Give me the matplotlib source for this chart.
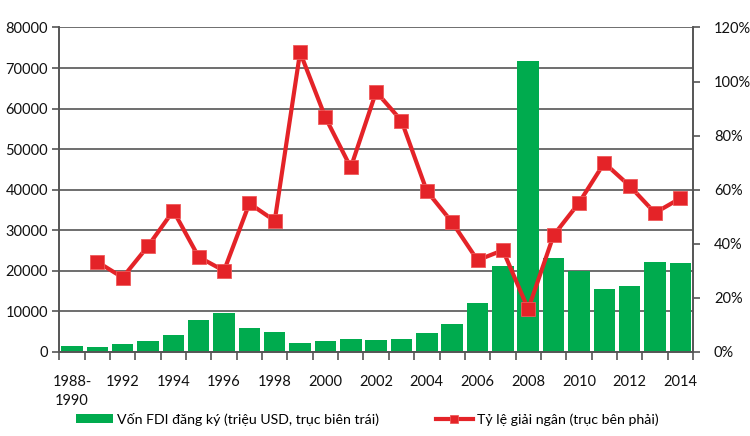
import numpy as np
import matplotlib
matplotlib.use("Agg")
import matplotlib.pyplot as plt
from matplotlib.ticker import FuncFormatter

plt.rcParams['font.family'] = ['Lato', 'DejaVu Sans']

categories = ['1988-\n1990'] + [str(y) for y in range(1991, 2015)]
fdi = [1400, 1100, 1900, 2700, 4200, 7800, 9500, 5900, 4800, 2300, 2650, 3200,
       2900, 3050, 4550, 6750, 11950, 21200, 71700, 23050, 19900, 15450, 16300,
       22200, 21800]
# no disbursement rate for 1988-1990
rate = [np.nan, 33.3, 27.5, 39.1, 52.2, 35.1, 30.0, 54.9, 48.5, 110.8, 86.7, 68.2,
        96.2, 85.5, 59.5, 47.9, 33.9, 37.6, 15.8, 43.1, 55.1, 69.9, 61.4, 51.4, 56.8]

green = '#00AB4E'
red = '#E42328'
grid = '#555555'

x = np.arange(len(categories))

fig = plt.figure(figsize=(7.5, 4.36), dpi=100)
ax = fig.add_axes([0.079, 0.193, 0.845, 0.744])
ax2 = ax.twinx()

bars = ax.bar(x, fdi, width=0.85, color=green, zorder=2,
              label='Vốn FDI đăng ký (triệu USD, trục biên trái)')
line, = ax2.plot(x, rate, color=red, lw=3, marker='s', ms=10,
                 mec='#ef5a5a', mew=0.6,
                 label='Tỷ lệ giải ngân (trục bên phải)')

ax.set_xlim(-0.5, len(categories) - 0.5)
ax.set_ylim(0, 80000)
ax.set_yticks(range(0, 80001, 10000))
ax2.set_ylim(0, 120)
ax2.set_yticks(range(0, 121, 20))
ax2.yaxis.set_major_formatter(FuncFormatter(lambda v, p: f'{v:.0f}%'))

ax.yaxis.grid(True, color=grid, lw=1.2)
ax.set_axisbelow(True)

ax.set_xticks(x[::2])
ax.set_xticklabels(categories[::2], va='top', ha='center', linespacing=1.4)
ax.set_xticks(np.arange(-0.5, len(categories), 1), minor=True)
ax.tick_params(axis='x', which='major', length=0, pad=17)
ax.tick_params(axis='x', which='minor', length=6, color=grid, width=1.2)
ax.tick_params(axis='y', length=5, color=grid, width=1.2, pad=3)
ax2.tick_params(axis='y', length=5, color=grid, width=1.2, pad=10)

for a in (ax, ax2):
    a.spines['top'].set_visible(False)
    for s in ('left', 'right', 'bottom'):
        a.spines[s].set_color(grid)
        a.spines[s].set_linewidth(1.2)
    a.tick_params(labelsize=10.5, labelcolor='#111111')

fig.legend(handles=[bars, line], loc='center left',
           bbox_to_anchor=(76 / 750, 17 / 436), borderpad=0, borderaxespad=0,
           ncol=2, frameon=False, fontsize=10.2, handlelength=2.6,
           handleheight=0.55, handletextpad=0.3, columnspacing=4.0,
           markerscale=0.6)

fig.savefig('out.png', dpi=100)
